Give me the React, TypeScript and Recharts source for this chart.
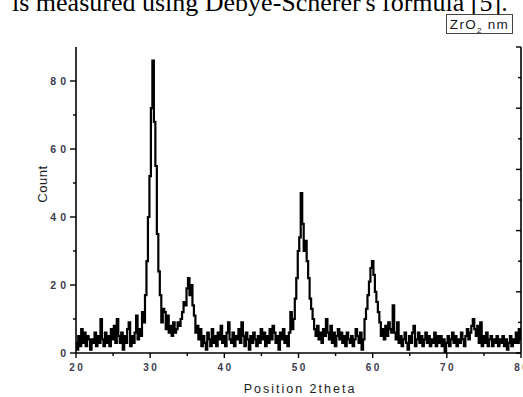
import React from "react";
import { LineChart, Line, XAxis, YAxis } from "recharts";

// XRD pattern, 2theta from 20 to 80 in steps of 0.2 degree
const ANGLE_START = 20;
const ANGLE_STEP = 0.2;
const counts = [
  3, 1, 5, 2, 7, 3, 6, 2, 5, 4,
  1, 4, 3, 6, 2, 5, 3, 10, 4, 2,
  6, 3, 5, 2, 7, 4, 8, 3, 10, 5,
  3, 6, 1, 5, 3, 7, 9, 2, 5, 3,
  6, 11, 4, 7, 5, 12, 9, 17, 27, 40,
  52, 72, 86, 68, 55, 35, 24, 17, 9, 13,
  12, 7, 11, 6, 8, 5, 9, 6, 7, 9,
  8, 10, 12, 15, 14, 19, 22, 17, 20, 14,
  11, 6, 8, 4, 7, 2, 5, 3, 1, 6,
  4, 2, 7, 3, 5, 2, 6, 4, 8, 3,
  5, 2, 6, 9, 4, 3, 6, 2, 5, 4,
  7, 3, 9, 5, 2, 6, 4, 1, 5, 3,
  6, 4, 2, 5, 3, 7, 4, 6, 2, 5,
  3, 7, 4, 8, 6, 3, 5, 1, 6, 4,
  7, 3, 5, 2, 6, 12, 7, 10, 16, 22,
  30, 34, 47, 38, 30, 33, 27, 22, 16, 13,
  10, 7, 5, 8, 4, 6, 3, 7, 5, 10,
  6, 4, 8, 3, 6, 2, 5, 7, 4, 6,
  3, 5, 2, 6, 4, 3, 5, 2, 4, 7,
  5, 3, 6, 1, 4, 10, 13, 17, 21, 25,
  27, 23, 18, 15, 12, 9, 5, 7, 4, 8,
  5, 9, 7, 6, 14, 6, 4, 9, 3, 5,
  2, 4, 6, 3, 1, 5, 3, 6, 8, 2,
  4, 6, 3, 5, 2, 4, 6, 3, 5, 2,
  4, 3, 6, 2, 5, 3, 5, 2, 4, 0,
  3, 5, 2, 4, 6, 3, 5, 2, 4, 3,
  6, 4, 2, 5, 7, 4, 6, 8, 10, 7,
  5, 8, 3, 9, 2, 5, 3, 6, 2, 4,
  5, 2, 4, 3, 5, 2, 4, 3, 5, 2,
  4, 1, 3, 5, 2, 4, 3, 6, 3, 7,
  4,
];

const xTicks = [20, 25, 30, 35, 40, 45, 50, 55, 60, 65, 70, 75, 80];
const xLabelTicks = [20, 30, 40, 50, 60, 70, 80];
const yTicks = [0, 10, 20, 30, 40, 50, 60, 70, 80];
const yLabelTicks = [0, 20, 40, 60, 80];
const topTicks = [20, 26, 32, 38, 44, 50, 56, 62, 68, 74, 80];
const topMajor = [20, 32, 44, 56, 68, 80];
const rightTicks = [0, 9, 18, 27, 36, 45, 54, 63, 72, 81, 90];
const rightMajor = [0, 18, 36, 54, 72, 90];

const data = counts.map((c, i) => ({
  angle: Math.round((ANGLE_START + i * ANGLE_STEP) * 10) / 10,
  count: c,
}));

const LABEL_FONT = "'Liberation Sans', Arial, sans-serif";
const TICK_COLOR = "#3c3c4c";

const BottomTick = (props: any) => {
  const { x, y, payload } = props;
  const v = payload.value;
  const major = xLabelTicks.includes(v);
  return (
    <g>
      <line x1={x} x2={x} y1={y} y2={y + (major ? 5 : 3)} stroke="#000" strokeWidth={1.4} />
      {major && (
        <text x={x + 1.2} y={y + 18} textAnchor="middle" fontFamily={LABEL_FONT} fontSize={10} fontWeight="bold" letterSpacing={2.5} fill={TICK_COLOR}>
          {v}
        </text>
      )}
    </g>
  );
};

const LeftTick = (props: any) => {
  const { x, y, payload } = props;
  const v = payload.value;
  const major = yLabelTicks.includes(v);
  return (
    <g>
      <line x1={x - (major ? 6 : 3)} x2={x} y1={y} y2={y} stroke="#000" strokeWidth={1.4} />
      {major && (
        <text x={x - 6} y={y + 3.6} textAnchor="end" fontFamily={LABEL_FONT} fontSize={10.5} fontWeight="bold" letterSpacing={4} fill={TICK_COLOR}>
          {v}
        </text>
      )}
    </g>
  );
};

const TopTick = (props: any) => {
  const { x, y, payload } = props;
  const major = topMajor.includes(payload.value);
  return <line x1={x} x2={x} y1={y} y2={y + (major ? 5 : 3)} stroke="#000" strokeWidth={1.4} />;
};

const RightTick = (props: any) => {
  const { x, y, payload } = props;
  const major = rightMajor.includes(payload.value);
  return <line x1={x - (major ? 5 : 3)} x2={x} y1={y} y2={y} stroke="#000" strokeWidth={1.4} />;
};

const CountLabel = () => (
  <text x={47} y={184} transform="rotate(-90 47 184)" textAnchor="middle" fontFamily={LABEL_FONT} fontSize={13} letterSpacing={0.6} fill="#1a1a1a">
    Count
  </text>
);

const PositionLabel = () => (
  <text x={300} y={393} textAnchor="middle" fontFamily={LABEL_FONT} fontSize={12.5} letterSpacing={2} fill="#222">
    Position 2theta
  </text>
);

export default function App() {
  return (
    <>
      <style>{`html, body { margin: 0; padding: 0; overflow: hidden; }`}</style>
      <div style={{ position: "fixed", left: 0, top: 0, width: 523, height: 397, overflow: "hidden", background: "#fff" }}>
        <svg style={{ position: "absolute", left: 0, top: 0 }} width={523} height={20}>
          <text x={12} y={11} fontFamily="'Liberation Serif', 'Times New Roman', serif" fontSize={26} fill="#000">
            is measured using Debye-Scherer's formula [5].
          </text>
        </svg>
        <div style={{ position: "absolute", left: 0, top: 0 }}>
          <LineChart width={523} height={397} data={data} margin={{ top: 47, right: 1, bottom: 0, left: 0 }}>
            <XAxis
              xAxisId="bottom"
              dataKey="angle"
              type="number"
              domain={[20, 80]}
              allowDataOverflow
              ticks={xTicks}
              interval={0}
              orientation="bottom"
              height={44}
              tickSize={0}
              tickMargin={0}
              tickLine={false}
              tick={<BottomTick />}
              axisLine={{ stroke: "#000", strokeWidth: 1.6 }}
              label={<PositionLabel />}
            />
            <XAxis
              xAxisId="top"
              dataKey="angle"
              type="number"
              domain={[20, 80]}
              allowDataOverflow
              ticks={topTicks}
              interval={0}
              orientation="top"
              height={0}
              tickSize={0}
              tickMargin={0}
              tickLine={false}
              tick={<TopTick />}
              axisLine={{ stroke: "#000", strokeWidth: 1.6 }}
            />
            <YAxis
              yAxisId="left"
              dataKey="count"
              type="number"
              domain={[0, 90]}
              allowDataOverflow
              ticks={yTicks}
              interval={0}
              orientation="left"
              width={76}
              tickSize={0}
              tickMargin={0}
              tickLine={false}
              tick={<LeftTick />}
              axisLine={{ stroke: "#000", strokeWidth: 1.6 }}
              label={<CountLabel />}
            />
            <YAxis
              yAxisId="right"
              dataKey="count"
              type="number"
              domain={[0, 90]}
              allowDataOverflow
              ticks={rightTicks}
              interval={0}
              orientation="right"
              width={1}
              tickSize={0}
              tickMargin={0}
              tickLine={false}
              tick={<RightTick />}
              axisLine={{ stroke: "#000", strokeWidth: 1.6 }}
            />
            <Line
              xAxisId="bottom"
              yAxisId="left"
              type="step"
              dataKey="count"
              stroke="#000"
              strokeWidth={2.2}
              dot={false}
              activeDot={false}
              isAnimationActive={false}
            />
          </LineChart>
        </div>
        <div
          style={{
            position: "absolute",
            left: 446,
            top: 14,
            width: 67,
            height: 20,
            boxSizing: "border-box",
            border: "1px solid #444",
            background: "#fff",
            fontFamily: LABEL_FONT,
            fontSize: 13.5,
            letterSpacing: 1.3,
            color: "#1a1a1a",
            display: "flex",
            alignItems: "center",
            justifyContent: "center",
            lineHeight: "13px",
            whiteSpace: "nowrap",
          }}
        >
          <span>
            ZrO<sub style={{ fontSize: 8, lineHeight: 0 }}>2</sub> nm
          </span>
        </div>
      </div>
    </>
  );
}
